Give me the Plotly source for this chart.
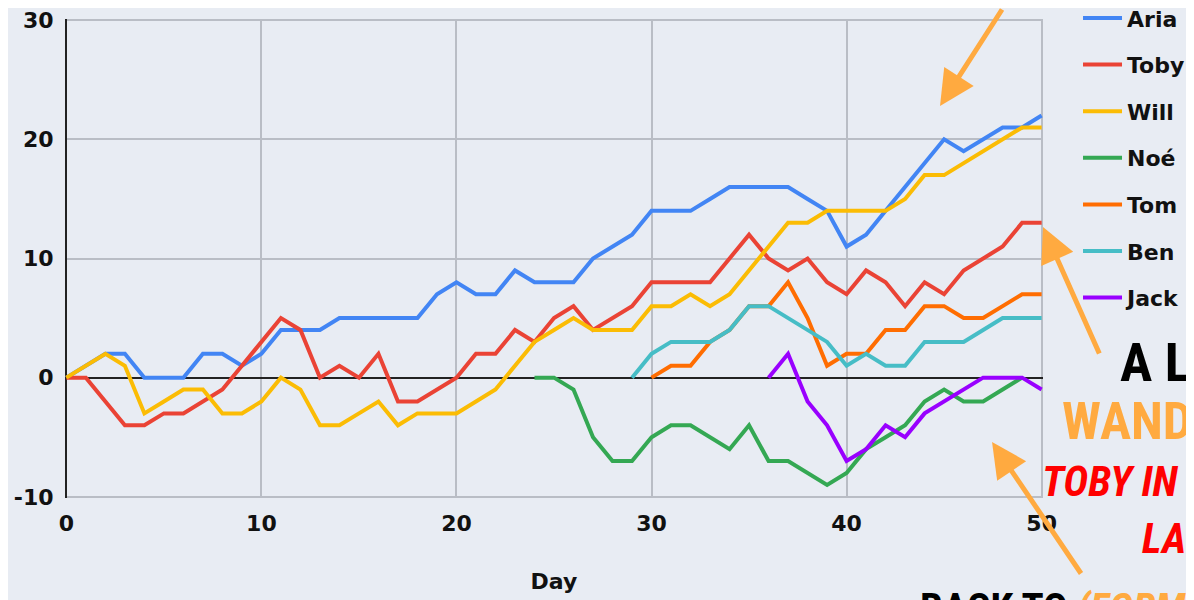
import plotly.graph_objects as go

# ---------------- data ----------------
names = ["Aria", "Toby", "Will", "Noé", "Tom", "Ben", "Jack"]
colors = ["#4285F4", "#EA4335", "#FBBC04", "#34A853", "#FF6D01", "#46BDC6", "#9900FF"]

aria_start = 0
aria = [0, 1, 2, 2, 0, 0, 0, 2, 2, 1, 2, 4, 4, 4, 5, 5, 5, 5, 5, 7, 8, 7, 7, 9, 8, 8, 8,
        10, 11, 12, 14, 14, 14, 15, 16, 16, 16, 16, 15, 14, 11, 12, 14, 16, 18, 20, 19,
        20, 21, 21, 22]
toby_start = 0
toby = [0, 0, -2, -4, -4, -3, -3, -2, -1, 1, 3, 5, 4, 0, 1, 0, 2, -2, -2, -1, 0, 2, 2,
        4, 3, 5, 6, 4, 5, 6, 8, 8, 8, 8, 10, 12, 10, 9, 10, 8, 7, 9, 8, 6, 8, 7, 9, 10,
        11, 13, 13]
will_start = 0
will = [0, 1, 2, 1, -3, -2, -1, -1, -3, -3, -2, 0, -1, -4, -4, -3, -2, -4, -3, -3, -3,
        -2, -1, 1, 3, 4, 5, 4, 4, 4, 6, 6, 7, 6, 7, 9, 11, 13, 13, 14, 14, 14, 14, 15,
        17, 17, 18, 19, 20, 21, 21]
noe_start = 24
noe = [0, 0, -1, -5, -7, -7, -5, -4, -4, -5, -6, -4, -7, -7, -8, -9, -8, -6, -5, -4,
       -2, -1, -2, -2, -1, 0]
tom_start = 30
tom = [0, 1, 1, 3, 4, 6, 6, 8, 5, 1, 2, 2, 4, 4, 6, 6, 5, 5, 6, 7, 7]
ben_start = 29
ben = [0, 2, 3, 3, 3, 4, 6, 6, 5, 4, 3, 1, 2, 1, 1, 3, 3, 3, 4, 5, 5, 5]
jack_start = 36
jack = [0, 2, -2, -4, -7, -6, -4, -5, -3, -2, -1, 0, 0, 0, -1]

series = [(aria_start, aria), (toby_start, toby), (will_start, will), (noe_start, noe),
          (tom_start, tom), (ben_start, ben), (jack_start, jack)]

x_ticks = [0, 10, 20, 30, 40, 50]
y_ticks = [-10, 0, 10, 20, 30]

# ---------------- figure ----------------
BG = "#E8ECF3"
ORANGE = "#FFAA40"
heavy = "DejaVu Sans, Liberation Sans, sans-serif"
narrow = "Roboto Condensed, Liberation Sans Narrow, DejaVu Sans Condensed, sans-serif"

fig = go.Figure()
for i, (name, color, (start, vals)) in enumerate(zip(names, colors, series)):
    fig.add_trace(go.Scatter(
        x=list(range(start, start + len(vals))), y=vals, name=name,
        mode="lines", line=dict(color=color, width=4),
        legendgroup=f"g{i}", hoverinfo="x+y+name",
    ))

# the page adds an 8px body margin, so the figure is 8px smaller than the window
fig.update_layout(
    width=1186, height=592,
    paper_bgcolor=BG, plot_bgcolor=BG,
    margin=dict(l=57, r=151, t=11, b=102, pad=0, autoexpand=False),
    showlegend=True,
    legend=dict(
        x=1.0358, xanchor="left", y=1.0455, yanchor="top",
        font=dict(family=heavy, size=22, color="#111111", weight="bold"),
        tracegroupgap=15, itemwidth=39, bgcolor="rgba(0,0,0,0)", maxheight=420,
    ),
    xaxis=dict(
        # range padded by ~1px so that the boundary grid lines are still drawn
        range=[-0.07, 50.07], tickvals=x_ticks, ticktext=[str(v) for v in x_ticks],
        showgrid=True, gridcolor="#B9BDC5", gridwidth=2,
        zeroline=True, zerolinecolor="#222222", zerolinewidth=2,
        showline=False, ticks="outside", ticklen=6, tickcolor="rgba(0,0,0,0)",
        ticklabeloverflow="allow",
        tickfont=dict(family=heavy, size=22, color="#111111", weight="bold"),
        title=dict(text="Day", standoff=38,
                   font=dict(family=heavy, size=22, color="#111111", weight="bold")),
    ),
    yaxis=dict(
        range=[-10.1, 30.1], tickvals=y_ticks, ticktext=[str(v) for v in y_ticks],
        showgrid=True, gridcolor="#B9BDC5", gridwidth=2,
        zeroline=True, zerolinecolor="#222222", zerolinewidth=2,
        showline=False, ticks="outside", ticklen=6, tickcolor="rgba(0,0,0,0)",
        ticklabeloverflow="allow",
        tickfont=dict(family=heavy, size=22, color="#111111", weight="bold"),
    ),
)

# ---------------- arrows ----------------
arrows = [
    dict(x=0.8947, y=0.8184, ax=63, ay=-115),
    dict(x=1.0, y=0.5658, ax=57, ay=128),
    dict(x=0.9479, y=0.1169, ax=90, ay=133),
]
for a in arrows:
    fig.add_annotation(xref="paper", yref="paper", x=a["x"], y=a["y"], ax=a["ax"], ay=a["ay"],
                       axref="pixel", ayref="pixel", text="", showarrow=True,
                       arrowhead=2, arrowsize=1.4, arrowwidth=5, arrowcolor=ORANGE)

# ---------------- captions ----------------
captions = [
    dict(text="<b>A LOT OF</b>", x=(1118 - 65) / 978, y=(498 - 362) / 479, color="#000000", size=54),
    dict(text="<b>WANDERING</b>", x=(1060 - 65) / 978, y=(498 - 421) / 479, color=ORANGE, size=52),
    dict(text="<b><i>TOBY IN NO MAN'S</i></b>", x=(1040 - 65) / 978, y=(498 - 481) / 479,
         color="#FF0000", size=42),
    dict(text="<b><i>LAND</i></b>", x=(1140 - 65) / 978, y=(498 - 538) / 479, color="#FF0000", size=42),
    dict(text="<b>BACK TO </b><b><i><span style='color:" + ORANGE + "'>(FORMER</span></i></b>",
         x=(918 - 65) / 978, y=(498 - 608) / 479, color="#000000", size=41),
]
for c in captions:
    fig.add_annotation(xref="paper", yref="paper", x=c["x"], y=c["y"], text=c["text"],
                       showarrow=False, xanchor="left", yanchor="middle",
                       font=dict(family=narrow, size=c["size"], color=c["color"]))

fig.write_html("out.html")
